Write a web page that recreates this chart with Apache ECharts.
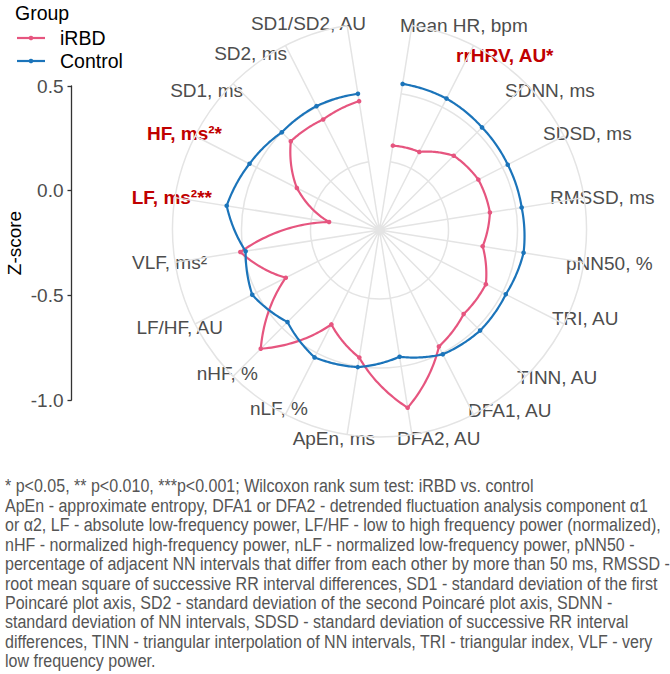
<!DOCTYPE html>
<html>
<head>
<meta charset="utf-8">
<script src="https://cdn.jsdelivr.net/npm/echarts@6/dist/echarts.min.js"></script>
<style>
  html, body { margin: 0; padding: 0; background: #fff; }
  #wrap { position: relative; width: 670px; height: 674px; overflow: hidden; }
  #chart { position: absolute; left: 0; top: 0; width: 670px; height: 674px; }
  #note { position: absolute; left: 5px; top: 0; width: 665px; color: #555555; white-space: nowrap; }
  #note div { white-space: nowrap; transform-origin: 0 50%; }
</style>
</head>
<body>
<div id="wrap">
  <div id="chart"></div>
  <div id="note"></div>
</div>
<script>
// ---------------- data ----------------
const categories = ['Mean HR, bpm', 'rrHRV, AU*', 'SDNN, ms', 'SDSD, ms', 'RMSSD, ms', 'pNN50, %',
  'TRI, AU', 'TINN, AU', 'DFA1, AU', 'DFA2, AU', 'ApEn, ms', 'nLF, %', 'nHF, %', 'LF/HF, AU',
  'VLF, ms\u00B2', 'LF, ms\u00B2**', 'HF, ms\u00B2*', 'SD1, ms', 'SD2, ms', 'SD1/SD2, AU'];
const significant = ['rrHRV, AU*', 'LF, ms\u00B2**', 'HF, ms\u00B2*'];
const irbdValues = [-0.381, -0.365, -0.239, -0.196, -0.190, -0.243, -0.135, -0.138, -0.052, 0.304,
  -0.064, -0.232, 0.217, -0.238, 0.021, -0.630, -0.328, -0.091, -0.101, -0.055];
const controlValues = [0.072, 0.069, 0.051, 0.043, 0.043, 0.057, 0.027, 0.031, 0.011, -0.070,
  0.006, 0.036, -0.057, 0.035, -0.018, 0.121, 0.057, 0.001, 0.007, -0.001];
const groupNames = ['iRBD', 'Control'];
const zTickLabels = ['-1.0', '-0.5', '0.0', '0.5'];
const footnoteLines = [
  '* p<0.05, ** p<0.010, ***p<0.001; Wilcoxon rank sum test: iRBD vs. control',
  'ApEn - approximate entropy, DFA1 or DFA2 - detrended fluctuation analysis component \u03B11',
  'or \u03B12, LF - absolute low-frequency power, LF/HF - low to high frequency power (normalized),',
  'nHF - normalized high-frequency power, nLF - normalized low-frequency power, pNN50 -',
  'percentage of adjacent NN intervals that differ from each other by more than 50 ms, RMSSD -',
  'root mean square of successive RR interval differences, SD1 - standard deviation of the first',
  'Poincar\u00E9 plot axis, SD2 - standard deviation of the second Poincar\u00E9 plot axis, SDNN -',
  'standard deviation of NN intervals, SDSD - standard deviation of successive RR interval',
  'differences, TINN - triangular interpolation of NN intervals, TRI - triangular index, VLF - very',
  'low frequency power.'
];

// ---------------- layout / style (not data) ----------------
const FONT = '"Liberation Sans", Arial, sans-serif';
const colors = { iRBD: '#E6557F', Control: '#1B74BA' };
const gridColor = '#E4E4E4';
const labelAnchors = [
  [400, 25, 'left'], [456, 55, 'left'], [505, 90, 'left'], [543, 133, 'left'], [550, 197, 'left'],
  [566, 263, 'left'], [552, 318, 'left'], [517, 377, 'left'], [468, 410, 'left'], [397, 438, 'left'],
  [375, 438, 'right'], [308, 408, 'right'], [258, 373, 'right'], [223, 327, 'right'], [207, 262, 'right'],
  [212, 197, 'right'], [222, 133, 'right'], [243, 90, 'right'], [287, 53, 'right'], [366, 23, 'right']
];

// ---------------- footnote (condensed sans, like Arial Narrow) ----------------
(function () {
  const ctx = document.createElement('canvas').getContext('2d');
  const size = 18;
  ctx.font = size + 'px "Liberation Sans", Arial, sans-serif';
  const w = ctx.measureText(footnoteLines[1]).width;
  const k = 643 / w;
  const lh = 19.45;
  const note = document.getElementById('note');
  note.style.fontFamily = '"Liberation Sans", Arial, sans-serif';
  note.style.fontSize = size + 'px';
  note.style.lineHeight = lh + 'px';
  note.style.top = (487 - lh / 2) + 'px';
  footnoteLines.forEach(t => {
    const d = document.createElement('div');
    d.textContent = t;
    d.style.transform = 'scaleX(' + k.toFixed(4) + ')';
    note.appendChild(d);
  });
})();

// ---------------- chart ----------------
function curveSeries(name, values, color, z) {
  return {
    type: 'custom',
    name: name,
    coordinateSystem: 'polar',
    z: z,
    itemStyle: { color: color },
    data: values.map((v, i) => [v, i]),
    encode: { radius: 0, angle: 1 },
    renderItem: function (params, api) {
      const i = params.dataIndexInside;
      const cs = params.coordSys;
      const cx = cs.cx, cy = cs.cy;
      const p0 = api.coord([api.value(0), api.value(1)]);
      const children = [];
      if (i < params.dataInsideLength - 1) {
        const p1 = api.coord([api.value(0, i + 1), api.value(1, i + 1)]);
        const r0 = Math.hypot(p0[0] - cx, p0[1] - cy);
        const r1 = Math.hypot(p1[0] - cx, p1[1] - cy);
        const a0 = Math.atan2(p0[1] - cy, p0[0] - cx);
        let d = Math.atan2(p1[1] - cy, p1[0] - cx) - a0;
        while (d > Math.PI) d -= 2 * Math.PI;
        while (d < -Math.PI) d += 2 * Math.PI;
        const pts = [];
        const N = 30;
        for (let k = 0; k <= N; k++) {
          const t = k / N;
          const r = r0 + (r1 - r0) * t;
          const a = a0 + d * t;
          pts.push([cx + r * Math.cos(a), cy + r * Math.sin(a)]);
        }
        children.push({
          type: 'polyline',
          shape: { points: pts },
          style: { stroke: color, lineWidth: 2.2, fill: null, lineJoin: 'round' }
        });
      }
      children.push({
        type: 'circle',
        shape: { cx: p0[0], cy: p0[1], r: 2.3 },
        style: { fill: color }
      });
      return { type: 'group', children: children };
    }
  };
}

const graphics = [];
categories.forEach((c, i) => {
  const a = labelAnchors[i];
  const sig = significant.indexOf(c) >= 0;
  graphics.push({
    type: 'text',
    x: a[0], y: a[1],
    silent: true,
    style: {
      text: c,
      fill: sig ? '#C00000' : '#4D4D4D',
      fontSize: 19,
      fontWeight: sig ? 'bold' : 'normal',
      fontFamily: FONT,
      align: a[2],
      verticalAlign: 'middle'
    }
  });
});
// legend
graphics.push({ type: 'text', x: 15, y: 13, style: { text: 'Group', fill: '#000', fontSize: 19.5, fontFamily: FONT, align: 'left', verticalAlign: 'middle' } });
groupNames.forEach((g, k) => {
  const y = 38 + k * 23;
  graphics.push({ type: 'line', shape: { x1: 17, y1: y, x2: 45, y2: y }, style: { stroke: colors[g], lineWidth: 2.2 } });
  graphics.push({ type: 'circle', shape: { cx: 31, cy: y, r: 2.3 }, style: { fill: colors[g] } });
  graphics.push({ type: 'text', x: 60, y: y, style: { text: g, fill: '#000', fontSize: 19.5, fontFamily: FONT, align: 'left', verticalAlign: 'middle' } });
});

const chart = echarts.init(document.getElementById('chart'), null, { renderer: 'svg', width: 670, height: 674 });
chart.setOption({
  animation: false,
  backgroundColor: 'transparent',
  textStyle: { fontFamily: FONT },
  polar: { center: [379.5, 230], radius: 207 },
  angleAxis: {
    type: 'category',
    data: categories,
    boundaryGap: false,
    startAngle: 81,
    clockwise: true,
    axisLine: { show: false },
    axisTick: { show: false },
    axisLabel: { show: false },
    splitLine: { show: true, lineStyle: { color: gridColor, width: 1.5 } }
  },
  radiusAxis: {
    type: 'value',
    min: -1, max: 0.5, interval: 0.5,
    axisLine: { show: false },
    axisTick: { show: false },
    axisLabel: { show: false },
    splitLine: { show: true, lineStyle: { color: gridColor, width: 1.5 } }
  },
  grid: { left: 71.5, top: 86, height: 314, width: 1 },
  xAxis: { type: 'value', show: false, min: 0, max: 1 },
  yAxis: {
    type: 'value',
    min: -1, max: 0.5, interval: 0.5,
    axisLine: { show: true, lineStyle: { color: '#333333', width: 1.3 } },
    axisTick: { show: true, length: 4, lineStyle: { color: '#333333', width: 1.3 } },
    axisLabel: { color: '#4D4D4D', fontSize: 19, margin: 8, formatter: v => zTickLabels[Math.round((v + 1) / 0.5)] },
    splitLine: { show: false },
    name: 'Z-score',
    nameLocation: 'middle',
    nameGap: 48,
    nameRotate: 90,
    nameTextStyle: { color: '#000', fontSize: 19 }
  },
  series: [
    curveSeries(groupNames[0], irbdValues, colors.iRBD, 3),
    curveSeries(groupNames[1], controlValues, colors.Control, 4)
  ],
  graphic: graphics
});
</script>
</body>
</html>
